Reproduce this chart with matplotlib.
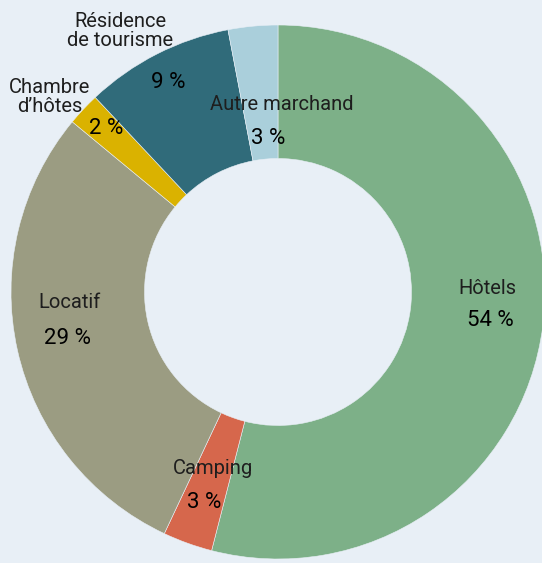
import matplotlib.pyplot as plt

# parts of stays by accommodation type (%)
labels = ["Hôtels", "Camping", "Locatif", "Chambre\nd’hôtes", "Résidence\nde tourisme", "Autre marchand"]
shares = [54, 3, 29, 2, 9, 3]
colors = ["#7db088", "#d6674c", "#9b9c82", "#dab200", "#306b7a", "#aacfdb"]

# label positions (pixels from top-left) : name, value
name_pos = [(487, 288), (213, 468), (70, 303), (50, 97), (120, 31), (282, 104)]
val_pos = [(490, 321), (204, 502), (68, 339), (106, 128), (168, 83), (268, 138)]

W, H = 542, 563
cx, cy, R = 278, 292, 267
bg = "#e8eff6"

fig = plt.figure(figsize=(W / 100, H / 100), dpi=100, facecolor=bg)
ax = fig.add_axes([0, 0, 1, 1])
ax.set_facecolor(bg)

ax.pie(shares, colors=colors, startangle=90, counterclock=False, radius=1,
       wedgeprops=dict(width=0.5, edgecolor="#e8eff6", linewidth=0.4))

ax.set_xlim(-cx / R, (W - cx) / R)
ax.set_ylim(-(H - cy) / R, cy / R)
ax.set_aspect("auto")
ax.axis("off")


def to_data(px, py):
    return (px - cx) / R, (cy - py) / R


for lab, s, p, v in zip(labels, shares, name_pos, val_pos):
    x, y = to_data(*p)
    ax.text(x, y, lab, ha="center", va="center", fontsize=14.5, family="Roboto",
            color="#1e1e1e", linespacing=0.95)
    x, y = to_data(*v)
    ax.text(x, y, f"{s} %", ha="center", va="center", fontsize=16, family="Roboto",
            color="#000000")

fig.savefig("out.png", dpi=100, facecolor=bg)
